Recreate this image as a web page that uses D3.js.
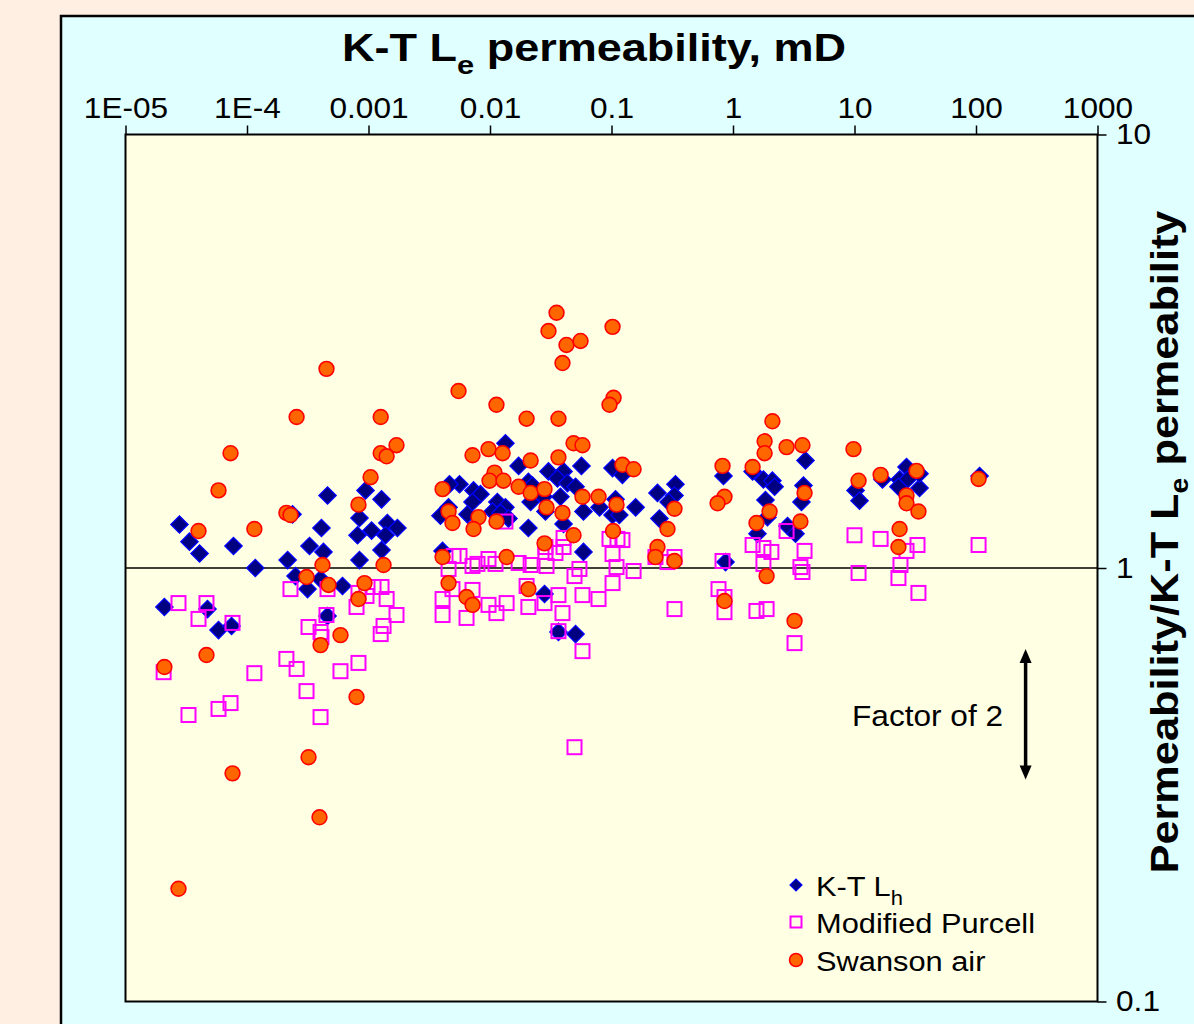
<!DOCTYPE html>
<html>
<head>
<meta charset="utf-8">
<title>K-T Le permeability</title>
<script src="https://d3js.org/d3.v7.min.js"></script>
<style>
  body { margin: 0; background: #FFEEE2; }
  svg { display: block; font-family: Arial, "Liberation Sans", sans-serif; }
</style>
</head>
<body>
<script>
// data (x = K-T Le permeability mD, y = ratio)
var ktX = [2.78e-5,3.36e-5,4.07e-5,7.74e-5,1.17e-4,2.16e-4,2.37e-4,3.27e-4,4.26e-4,4.60e-4,4.10e-4,2.51e-4,3.15e-4,4.03e-4,6.11e-4,9.45e-4,1.28e-3,8.43e-4,8.12e-4,1.06e-3,1.43e-3,1.38e-3,1.73e-3,1.28e-3,8.43e-4,2.09e-5,4.73e-5,5.83e-5,7.46e-5,4.60e-4,
  1.34e-2,1.72e-2,3.03e-2,4.03e-2,5.66e-2,0.102,0.123,3.59e-2,2.07e-2,2.24e-2,4.34e-2,5.06e-2,5.61e-3,4.64e-3,7.32e-3,8.35e-3,7.18e-3,4.56e-3,3.91e-3,6.53e-3,
  1.15e-2,1.34e-2,1.05e-2,1.22e-2,1.42e-2,2.16e-2,2.76e-2,3.80e-2,2.86e-2,5.88e-2,7.97e-2,0.108,0.158,0.102,0.116,2.07e-2,4.03e-2,5.88e-2,0.239,0.336,
  0.330,0.295,0.248,4.07e-3,2.81e-2,3.66e-2,5.06e-2,0.835,1.45,1.78,2.11,2.20,1.85,1.92,1.59,3.95,3.80,3.66,2.81,3.27,
  10.2,11.0,17.0,26.8,23.5,27.3,23.0,34.3,34.3,107,0.868];
var ktY = [1.26,1.15,1.08,1.124,1.00,1.043,1.33,1.124,1.089,1.47,1.237,0.958,0.894,0.943,0.909,1.51,1.44,1.304,1.19,1.22,1.27,1.19,1.237,1.10,1.043,0.813,0.804,0.719,0.735,0.775,
  1.94,1.72,1.67,1.67,1.72,1.70,1.64,1.61,1.58,1.55,1.57,1.54,1.56,1.56,1.51,1.48,1.42,1.38,1.32,1.33,
  1.42,1.38,1.35,1.34,1.30,1.42,1.46,1.46,1.35,1.35,1.38,1.44,1.38,1.325,1.325,1.237,1.264,1.089,1.49,1.56,
  1.47,1.42,1.30,1.095,0.871,0.712,0.704,1.63,1.67,1.60,1.59,1.54,1.435,1.31,1.20,1.77,1.55,1.42,1.25,1.20,
  1.51,1.43,1.60,1.71,1.60,1.60,1.54,1.53,1.65,1.63,1.032];

var purX = [2.73e-5,4.64e-5,3.99e-5,7.60e-5,2.28e-4,4.60e-4,3.21e-4,4.03e-4,4.10e-4,4.51e-4,2.11e-4,2.56e-4,1.15e-4,5.88e-4,8.27e-4,2.06e-5,7.97e-4,8.27e-4,9.63e-4,1.10e-3,
  1.28e-3,1.41e-3,1.70e-3,1.33e-3,1.26e-3,3.09e-4,3.30e-5,5.83e-5,7.32e-5,4.03e-4,1.34e-2,5.01e-3,5.61e-3,4.56e-3,7.18e-3,7.89e-3,9.72e-3,1.11e-2,1.72e-2,2.16e-2,
  2.92e-2,4.03e-2,2.86e-2,2.86e-2,3.46e-2,4.03e-2,5.45e-2,4.96e-2,9.63e-2,0.112,0.123,0.102,0.110,0.102,0.152,4.07e-3,7.18e-3,4.91e-3,4.07e-3,6.41e-3,
  9.72e-3,1.13e-2,1.37e-2,2.00e-2,2.07e-2,2.81e-2,3.66e-2,3.95e-2,5.77e-2,7.82e-2,3.66e-2,5.77e-2,0.230,0.289,0.330,0.330,4.96e-2,2.76,1.45,1.78,
  2.07,3.88,1.78,0.820,3.59,3.73,10.0,16.4,26.8,33.0,23.9,23.0,10.8,33.6,105,0.760,0.851,0.851,1.56,1.89,3.21];
var purY = [0.830,0.830,0.763,0.747,0.894,0.894,0.731,0.712,0.693,0.779,0.617,0.585,0.572,0.578,0.604,0.575,0.813,0.876,0.862,0.904,
  0.904,0.848,0.779,0.735,0.704,0.520,0.458,0.473,0.488,0.453,1.28,1.066,1.066,0.995,1.011,1.022,1.049,1.022,1.027,1.016,
  1.011,1.173,1.118,1.089,1.083,1.118,0.995,0.958,1.167,1.167,1.160,1.077,1.005,0.923,0.984,0.848,0.890,0.894,0.779,0.767,
  0.822,0.787,0.830,0.909,0.813,0.830,0.866,0.787,0.866,0.848,0.715,0.643,1.060,1.032,1.060,0.804,0.386,1.217,1.130,1.112,
  1.089,1.095,1.022,1.038,1.005,0.979,1.19,1.167,1.095,1.130,1.016,0.948,0.974,0.876,1.130,0.894,0.857,0.791,0.796,0.804,0.671];

var swX = [2.56e-4,1.26e-3,7.32e-5,1.70e-3,1.26e-3,1.41e-3,5.83e-5,1.04e-3,8.27e-4,2.11e-4,2.28e-4,3.99e-5,1.15e-4,4.18e-4,1.33e-3,3.09e-4,4.69e-4,9.27e-4,8.27e-4,5.88e-4,
  4.03e-4,4.64e-5,2.09e-5,4.51e-4,3.21e-4,7.60e-5,3.95e-4,2.73e-5,7.97e-4,3.53e-2,3.03e-2,4.26e-2,5.56e-2,3.95e-2,0.102,5.51e-3,1.13e-2,2.00e-2,3.66e-2,0.104,
  9.63e-2,4.87e-2,5.77e-2,7.18e-3,9.72e-3,1.27e-2,2.16e-2,3.66e-2,0.123,0.152,1.09e-2,9.91e-3,1.29e-2,1.72e-2,2.16e-2,2.81e-2,4.07e-3,5.77e-2,7.82e-2,0.110,
  2.92e-2,3.95e-2,0.330,4.56e-3,4.91e-3,8.04e-3,1.13e-2,7.32e-3,0.289,0.103,4.87e-2,2.81e-2,0.239,0.230,0.330,4.07e-3,1.37e-2,4.56e-3,6.41e-3,7.18e-3,
  2.07e-2,2.11,1.82,1.82,2.76,3.73,9.81,0.820,1.45,16.4,32.4,10.8,105,0.851,0.746,3.88,26.8,26.8,33.6,2.00,
  1.56,3.59,23.5,23.0,1.89,0.851,3.21];
var swY = [2.23,2.23,1.84,1.92,1.84,1.81,1.51,1.62,1.40,1.34,1.325,1.217,1.23,1.016,1.016,0.953,0.914,0.923,0.848,0.700,
  0.664,0.630,0.591,2.88,0.366,0.336,0.266,0.182,0.504,3.88,3.52,3.27,3.34,2.97,3.60,2.56,2.38,2.21,2.21,2.47,
  2.38,1.94,1.92,1.82,1.88,1.84,1.77,1.80,1.73,1.69,1.66,1.59,1.59,1.54,1.49,1.52,1.52,1.46,1.46,1.40,
  1.38,1.34,1.37,1.35,1.27,1.31,1.28,1.23,1.23,1.217,1.19,1.14,1.118,1.060,1.038,1.060,1.060,0.923,0.857,0.822,
  0.894,2.18,1.96,1.84,1.90,1.92,1.88,1.72,1.71,1.64,1.675,1.59,1.605,1.46,1.41,1.49,1.47,1.41,1.35,1.35,
  1.27,1.28,1.23,1.118,0.958,0.839,0.755];

var xTicks = [1e-5,1e-4,1e-3,1e-2,0.1,1,10,100,1000];
var xTickLabels = ["1E-05","1E-4","0.001","0.01","0.1","1","10","100","1000"];
var yTicks = [0.1,1,10];
var yTickLabels = ["0.1","1","10"];
var seriesNames = ["K-T L", "Modified Purcell", "Swanson air"];

var W = 1194, H = 1024;
var svg = d3.select("body").append("svg").attr("width", W).attr("height", H);

// backgrounds
svg.append("rect").attr("width", W).attr("height", H).attr("fill", "#FFEEE2");
svg.append("rect").attr("x", 61).attr("y", 16).attr("width", 1200).attr("height", 1100)
  .attr("fill", "#E0FFFF").attr("stroke", "#000").attr("stroke-width", 2.5);

var x = d3.scaleLog().domain([1e-5, 1000]).range([125.5, 1097.5]);
var y = d3.scaleLog().domain([0.1, 10]).range([1001.5, 134.5]);

svg.append("rect").attr("x", x(1e-5)).attr("y", y(10))
  .attr("width", x(1000) - x(1e-5)).attr("height", y(0.1) - y(10))
  .attr("fill", "#FFFFE4").attr("stroke", "#000").attr("stroke-width", 2);

// minor tick values 2..9 of each decade
function minors(lo, hi) {
  var out = [];
  for (var e = lo; e < hi; e++) for (var m = 2; m <= 9; m++) out.push(m * Math.pow(10, e));
  return out;
}

// top axis
var gx = svg.append("g").attr("transform", "translate(0," + y(10) + ")");
gx.call(d3.axisTop(x).tickValues(minors(-5, 3)).tickSize(6).tickFormat(""));
gx.call(d3.axisTop(x).tickValues(xTicks).tickSize(9).tickPadding(8)
  .tickFormat(function (d, i) { return xTickLabels[i]; }));
gx.selectAll(".domain").remove();
gx.selectAll("line").attr("stroke", "#000").attr("stroke-width", 1.5);
gx.selectAll("text").attr("font-size", 29).attr("fill", "#000")
  .attr("font-family", "Arial, 'Liberation Sans', sans-serif")
  .attr("transform", "scale(1.09,1)");

// right axis
var gy = svg.append("g").attr("transform", "translate(" + x(1000) + ",0)");
gy.call(d3.axisRight(y).tickValues(minors(-1, 1)).tickSize(7).tickFormat(""));
gy.call(d3.axisRight(y).tickValues(yTicks).tickSize(9).tickPadding(8)
  .tickFormat(function (d, i) { return yTickLabels[i]; }));
gy.selectAll(".domain").remove();
gy.selectAll("line").attr("stroke", "#000").attr("stroke-width", 1.5);
gy.selectAll("text").attr("font-size", 29).attr("fill", "#000")
  .attr("font-family", "Arial, 'Liberation Sans', sans-serif")
  .attr("transform", "scale(1.09,1)");

// line at ratio 1
svg.append("line").attr("x1", x(1e-5)).attr("x2", x(1000)).attr("y1", y(1)).attr("y2", y(1))
  .attr("stroke", "#000").attr("stroke-width", 1.5);

// markers
var diamond = d3.symbol().type(d3.symbolSquare).size(150);
var ktData = ktX.map(function (v, i) { return [v, ktY[i]]; });
var purData = purX.map(function (v, i) { return [v, purY[i]]; });
var swData = swX.map(function (v, i) { return [v, swY[i]]; });

svg.append("g").selectAll("path").data(ktData).enter().append("path")
  .attr("d", diamond)
  .attr("transform", function (d) { return "translate(" + x(d[0]) + "," + y(d[1]) + ") rotate(45)"; })
  .attr("fill", "#000080").attr("stroke", "#0000FF").attr("stroke-width", 1.3);

svg.append("g").selectAll("rect").data(purData).enter().append("rect")
  .attr("x", function (d) { return x(d[0]) - 7; })
  .attr("y", function (d) { return y(d[1]) - 7; })
  .attr("width", 14).attr("height", 14)
  .attr("fill", "none").attr("stroke", "#FF00FF").attr("stroke-width", 2);

svg.append("g").selectAll("circle").data(swData).enter().append("circle")
  .attr("cx", function (d) { return x(d[0]); })
  .attr("cy", function (d) { return y(d[1]); })
  .attr("r", 7.4)
  .attr("fill", "#FF6600").attr("stroke", "#FF0000").attr("stroke-width", 1.6);

// text helper, stretched horizontally like the original
function addText(str, px, py, size, weight, anchor, sx) {
  return svg.append("text")
    .attr("transform", "translate(" + px + "," + py + ") scale(" + sx + ",1)")
    .attr("font-size", size).attr("font-weight", weight)
    .attr("text-anchor", anchor).attr("fill", "#000").text(str);
}

// title
var title = svg.append("text").attr("font-size", 38).attr("font-weight", "bold")
  .attr("text-anchor", "middle").attr("fill", "#000");
title.append("tspan").text("K-T L");
title.append("tspan").attr("font-size", 26).attr("dy", 13).text("e");
title.append("tspan").attr("dy", -13).text(" permeability, mD");
var tw = title.node().getBBox().width;
title.attr("transform", "translate(594,61) scale(" + (504 / tw) + ",1)");

// right label
var ylab = svg.append("text").attr("font-size", 38).attr("font-weight", "bold")
  .attr("text-anchor", "middle").attr("fill", "#000");
ylab.append("tspan").text("Permeability/K-T L");
ylab.append("tspan").attr("font-size", 25).attr("dy", 10).text("e");
ylab.append("tspan").attr("dy", -10).text(" permeability");
var yw = ylab.node().getBBox().width;
ylab.attr("transform", "translate(1178,542) rotate(-90) scale(" + (663 / yw) + ",1)");

// factor of 2 annotation
addText("Factor of 2", 852, 726, 29, "normal", "start", 1.09);
var ax = x(256), aTop = y(0.65), aBot = y(0.325);
svg.append("line").attr("x1", ax).attr("x2", ax).attr("y1", aTop + 10).attr("y2", aBot - 10)
  .attr("stroke", "#000").attr("stroke-width", 3.5);
svg.append("path").attr("d", "M" + ax + "," + aTop + " l-6,14 l12,0 z").attr("fill", "#000");
svg.append("path").attr("d", "M" + ax + "," + aBot + " l-6,-14 l12,0 z").attr("fill", "#000");

// legend
var lx = 796, ly = [885, 922, 960];
svg.append("path").attr("d", d3.symbol().type(d3.symbolSquare).size(72))
  .attr("transform", "translate(" + lx + "," + ly[0] + ") rotate(45)")
  .attr("fill", "#000080").attr("stroke", "#0000FF").attr("stroke-width", 1.2);
svg.append("rect").attr("x", lx - 5.5).attr("y", ly[1] - 5.5).attr("width", 11).attr("height", 11)
  .attr("fill", "none").attr("stroke", "#FF00FF").attr("stroke-width", 2);
svg.append("circle").attr("cx", lx).attr("cy", ly[2]).attr("r", 6.5)
  .attr("fill", "#FF6600").attr("stroke", "#FF0000").attr("stroke-width", 1.5);

var l0 = addText(seriesNames[0], 816, ly[0] + 11, 28, "normal", "start", 1.1);
l0.append("tspan").attr("font-size", 20).attr("dy", 9).text("h");
addText(seriesNames[1], 816, ly[1] + 11, 28, "normal", "start", 1.1);
addText(seriesNames[2], 816, ly[2] + 11, 28, "normal", "start", 1.1);
</script>
</body>
</html>
